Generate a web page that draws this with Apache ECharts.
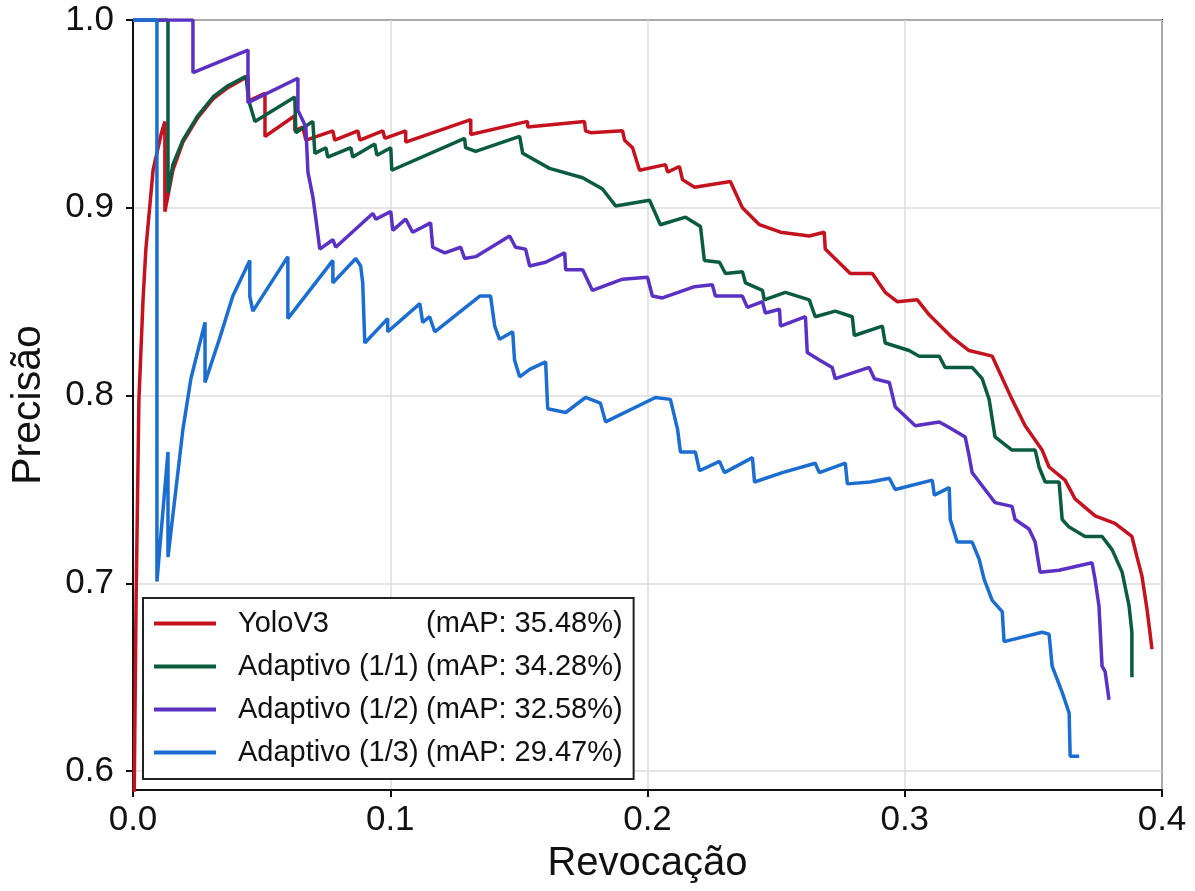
<!DOCTYPE html>
<html>
<head>
<meta charset="utf-8">
<script src="https://cdn.jsdelivr.net/npm/echarts@6/dist/echarts.min.js"></script>
<style>
  html, body { margin: 0; padding: 0; background: #fff; }
  #chart { width: 1195px; height: 891px; }
</style>
</head>
<body>
<div id="chart"></div>
<script>
// curva precisão x revocação, pontos [revocação, precisão]
const seriesNames = ['YoloV3', 'Adaptivo (1/1)', 'Adaptivo (1/2)', 'Adaptivo (1/3)'];
const mapValues = ['35.48%', '34.28%', '32.58%', '29.47%'];
const xTicks = [0.0, 0.1, 0.2, 0.3, 0.4];
const yTicks = [0.6, 0.7, 0.8, 0.9, 1.0];

const yoloV3 = [
  [0.0002, 0.55], [0.0012, 0.691], [0.0023, 0.798], [0.0039, 0.851], [0.0050, 0.878],
  [0.0078, 0.920], [0.0109, 0.939], [0.0124, 0.946], [0.0124, 0.898], [0.0155, 0.920],
  [0.0194, 0.935], [0.0252, 0.948], [0.0311, 0.958], [0.0369, 0.964], [0.0447, 0.970],
  [0.0450, 0.957], [0.0513, 0.961], [0.0513, 0.938], [0.0629, 0.949], [0.0629, 0.941],
  [0.0660, 0.943], [0.0672, 0.936], [0.0777, 0.941], [0.0784, 0.936], [0.0874, 0.941],
  [0.0882, 0.936], [0.0971, 0.941], [0.0979, 0.937], [0.1060, 0.941], [0.1060, 0.935],
  [0.1313, 0.947], [0.1313, 0.939], [0.1534, 0.946], [0.1534, 0.943], [0.1755, 0.946],
  [0.1759, 0.941], [0.1779, 0.940], [0.1903, 0.941], [0.1911, 0.936], [0.1942, 0.932],
  [0.1969, 0.920], [0.2070, 0.923], [0.2078, 0.919], [0.2124, 0.922], [0.2136, 0.915],
  [0.2183, 0.911], [0.2322, 0.914], [0.2369, 0.900], [0.2435, 0.891], [0.2517, 0.887],
  [0.2629, 0.885], [0.2687, 0.887], [0.2691, 0.878], [0.2788, 0.865], [0.2874, 0.865],
  [0.2924, 0.855], [0.2971, 0.850], [0.3049, 0.851], [0.3095, 0.843], [0.3184, 0.831],
  [0.3250, 0.824], [0.3340, 0.821], [0.3417, 0.798], [0.3468, 0.784], [0.3534, 0.771],
  [0.3561, 0.762], [0.3623, 0.755], [0.3662, 0.745], [0.3740, 0.736], [0.3817, 0.732],
  [0.3883, 0.725], [0.3903, 0.714], [0.3922, 0.704], [0.3942, 0.686], [0.3953, 0.674],
  [0.3961, 0.665]
];

const adaptivo11 = [
  [0, 1.0], [0.0136, 1.0], [0.0136, 0.908], [0.0155, 0.923], [0.0194, 0.936],
  [0.0252, 0.949], [0.0311, 0.959], [0.0369, 0.965], [0.0439, 0.970], [0.0450, 0.957],
  [0.0474, 0.946], [0.0629, 0.959], [0.0633, 0.940], [0.0699, 0.946], [0.0707, 0.929],
  [0.0750, 0.932], [0.0757, 0.927], [0.0847, 0.932], [0.0854, 0.927], [0.0940, 0.934],
  [0.0948, 0.928], [0.1002, 0.932], [0.1006, 0.920], [0.1289, 0.937], [0.1293, 0.932],
  [0.1332, 0.930], [0.1503, 0.938], [0.1515, 0.929], [0.1619, 0.921], [0.1748, 0.916],
  [0.1825, 0.910], [0.1876, 0.901], [0.2008, 0.904], [0.2050, 0.891], [0.2148, 0.895],
  [0.2206, 0.890], [0.2221, 0.872], [0.2280, 0.871], [0.2303, 0.865], [0.2369, 0.866],
  [0.2381, 0.860], [0.2447, 0.856], [0.2454, 0.851], [0.2536, 0.855], [0.2629, 0.851],
  [0.2652, 0.842], [0.2730, 0.845], [0.2796, 0.842], [0.2804, 0.832], [0.2913, 0.837],
  [0.2924, 0.828], [0.3017, 0.824], [0.3056, 0.821], [0.3134, 0.821], [0.3157, 0.815],
  [0.3262, 0.815], [0.3301, 0.809], [0.3328, 0.798], [0.3351, 0.778], [0.3417, 0.771],
  [0.3507, 0.771], [0.3522, 0.762], [0.3546, 0.754], [0.3600, 0.754], [0.3612, 0.734],
  [0.3639, 0.730], [0.3701, 0.725], [0.3767, 0.725], [0.3806, 0.718], [0.3845, 0.706],
  [0.3872, 0.688], [0.3883, 0.674], [0.3883, 0.650]
];

const adaptivo12 = [
  [0, 1.0], [0.0233, 1.0], [0.0233, 0.972], [0.0447, 0.984], [0.0447, 0.956],
  [0.0641, 0.969], [0.0641, 0.952], [0.0672, 0.943], [0.0680, 0.919], [0.0699, 0.906],
  [0.0711, 0.894], [0.0726, 0.878], [0.0777, 0.883], [0.0788, 0.879], [0.0932, 0.897],
  [0.0944, 0.894], [0.1002, 0.898], [0.1010, 0.888], [0.1060, 0.894], [0.1087, 0.887],
  [0.1157, 0.892], [0.1165, 0.879], [0.1212, 0.876], [0.1274, 0.879], [0.1289, 0.873],
  [0.1332, 0.874], [0.1464, 0.885], [0.1487, 0.879], [0.1526, 0.878], [0.1542, 0.869],
  [0.1604, 0.871], [0.1678, 0.876], [0.1682, 0.867], [0.1748, 0.867], [0.1786, 0.856],
  [0.1903, 0.862], [0.2000, 0.863], [0.2019, 0.853], [0.2058, 0.852], [0.2183, 0.858],
  [0.2252, 0.859], [0.2264, 0.853], [0.2369, 0.853], [0.2388, 0.847], [0.2447, 0.850],
  [0.2458, 0.844], [0.2513, 0.846], [0.2517, 0.837], [0.2614, 0.842], [0.2621, 0.823],
  [0.2668, 0.819], [0.2718, 0.815], [0.2730, 0.809], [0.2862, 0.815], [0.2882, 0.809],
  [0.2940, 0.807], [0.2963, 0.794], [0.3002, 0.789], [0.3041, 0.784], [0.3134, 0.786],
  [0.3173, 0.783], [0.3235, 0.778], [0.3250, 0.768], [0.3262, 0.759], [0.3301, 0.752],
  [0.3351, 0.743], [0.3417, 0.741], [0.3429, 0.734], [0.3483, 0.729], [0.3507, 0.722],
  [0.3526, 0.706], [0.3600, 0.707], [0.3728, 0.711], [0.3740, 0.702], [0.3755, 0.688],
  [0.3767, 0.656], [0.3779, 0.653], [0.3794, 0.638]
];

const adaptivo13 = [
  [0, 1.0], [0.0093, 1.0], [0.0093, 0.701], [0.0136, 0.770], [0.0136, 0.714],
  [0.0194, 0.782], [0.0225, 0.809], [0.0280, 0.839], [0.0280, 0.807], [0.0338, 0.831],
  [0.0388, 0.853], [0.0454, 0.872], [0.0454, 0.853], [0.0466, 0.845], [0.0602, 0.874],
  [0.0602, 0.841], [0.0777, 0.872], [0.0777, 0.860], [0.0866, 0.873], [0.0885, 0.869],
  [0.0893, 0.860], [0.0901, 0.828], [0.0990, 0.841], [0.0990, 0.834], [0.1115, 0.849],
  [0.1126, 0.839], [0.1153, 0.842], [0.1173, 0.834], [0.1348, 0.853], [0.1390, 0.853],
  [0.1406, 0.837], [0.1425, 0.830], [0.1476, 0.834], [0.1483, 0.819], [0.1503, 0.810],
  [0.1542, 0.814], [0.1604, 0.818], [0.1612, 0.793], [0.1682, 0.791], [0.1759, 0.799],
  [0.1817, 0.796], [0.1837, 0.786], [0.2031, 0.799], [0.2089, 0.798], [0.2117, 0.782],
  [0.2128, 0.770], [0.2186, 0.770], [0.2202, 0.760], [0.2280, 0.765], [0.2299, 0.759],
  [0.2408, 0.767], [0.2416, 0.754], [0.2524, 0.759], [0.2652, 0.764], [0.2668, 0.759],
  [0.2769, 0.764], [0.2777, 0.753], [0.2866, 0.754], [0.2940, 0.756], [0.2963, 0.750],
  [0.3107, 0.755], [0.3115, 0.747], [0.3173, 0.751], [0.3177, 0.734], [0.3204, 0.722],
  [0.3262, 0.722], [0.3289, 0.713], [0.3309, 0.702], [0.3340, 0.691], [0.3379, 0.685],
  [0.3386, 0.669], [0.3534, 0.674], [0.3561, 0.673], [0.3573, 0.656], [0.3612, 0.642],
  [0.3639, 0.631], [0.3643, 0.608], [0.3678, 0.608]
];

const seriesData = [yoloV3, adaptivo11, adaptivo12, adaptivo13];
const colors = ['#c4121f', '#0b5c3e', '#5a31c3', '#1b6ed0'];

const fontFamily = '"Liberation Sans", Arial, sans-serif';

let chartDom = document.getElementById('chart');
let myChart = echarts.init(chartDom);

let option = {
  animation: false,
  backgroundColor: '#fff',
  color: colors,
  grid: {
    left: 130,
    right: 33,
    top: 20,
    bottom: 101,
    show: true,
    borderColor: '#111',
    borderWidth: 2
  },
  xAxis: {
    type: 'value',
    min: 0,
    max: 0.4,
    interval: 0.1,
    name: 'Revocação',
    nameLocation: 'middle',
    nameGap: 54,
    nameTextStyle: { fontSize: 40, color: '#111', fontFamily: fontFamily },
    axisLine: { show: true, lineStyle: { color: '#111', width: 2 } },
    axisTick: { show: true, length: 7, lineStyle: { color: '#111', width: 2 } },
    axisLabel: {
      fontSize: 35, color: '#111', fontFamily: fontFamily, margin: 13,
      formatter: function (v) { return v.toFixed(1); }
    },
    splitLine: { show: true, lineStyle: { color: '#dcdcdc', width: 1.5 } }
  },
  yAxis: {
    type: 'value',
    min: 0.59,
    max: 1.0,
    name: 'Precisão',
    nameLocation: 'middle',
    nameGap: 84,
    nameTextStyle: { fontSize: 41, color: '#111', fontFamily: fontFamily },
    axisLine: { show: true, lineStyle: { color: '#111', width: 2 } },
    axisTick: { show: true, length: 7, customValues: yTicks, lineStyle: { color: '#111', width: 2 } },
    axisLabel: {
      fontSize: 35, color: '#111', fontFamily: fontFamily, margin: 19,
      customValues: yTicks,
      formatter: function (v) { return v.toFixed(1); }
    },
    splitLine: { show: true, lineStyle: { color: '#dcdcdc', width: 1.5 } }
  },
  legend: {
    orient: 'vertical',
    left: 143,
    top: 598,
    padding: [11, 11, 12, 9],
    itemGap: 14,
    itemWidth: 62,
    itemHeight: 28,
    backgroundColor: '#fff',
    borderColor: '#222',
    borderWidth: 2,
    borderRadius: 0,
    data: seriesNames,
    itemStyle: { opacity: 0 },
    lineStyle: { width: 4 },
    formatter: function (name) {
      let i = seriesNames.indexOf(name);
      return '{a|' + name + '}{b|(mAP: ' + mapValues[i] + ')}';
    },
    textStyle: {
      fontFamily: fontFamily,
      color: '#111',
      rich: {
        a: { fontSize: 29, fontFamily: fontFamily, color: '#111', width: 188, padding: [0, 0, 0, 17] },
        b: { fontSize: 29, fontFamily: fontFamily, color: '#111' }
      }
    }
  },
  series: seriesNames.map(function (name, i) {
    return {
      name: name,
      type: 'line',
      data: seriesData[i],
      symbol: 'none',
      clip: true,
      lineStyle: { width: 3.5, color: colors[i] },
      itemStyle: { color: colors[i] }
    };
  })
};

myChart.setOption(option);

window.addEventListener('resize', () => {
  myChart.resize();
});
</script>
</body>
</html>
